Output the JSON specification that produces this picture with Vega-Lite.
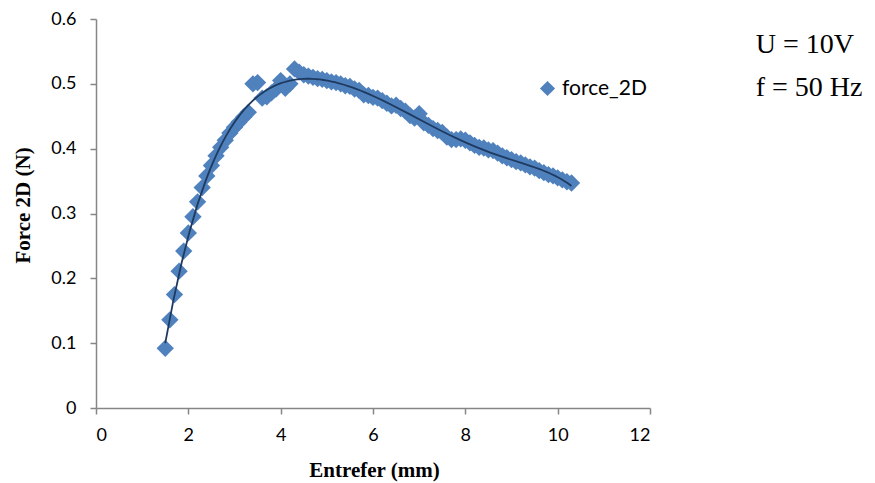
{
  "$schema": "https://vega.github.io/schema/vega-lite/v6.json",
  "autosize": "none",
  "width": 554,
  "height": 389,
  "padding": {"left": 96, "top": 19, "right": 225, "bottom": 75},
  "background": "white",
  "title": {
    "text": ["U = 10V", "f = 50 Hz"],
    "anchor": "end",
    "align": "left",
    "baseline": "top",
    "dx": 105,
    "dy": 96,
    "font": "Liberation Serif",
    "fontSize": 28,
    "fontWeight": "normal",
    "lineHeight": 43,
    "color": "black"
  },
  "data": {
    "values": [
      {"x": 1.5, "y": 0.092}, {"x": 1.6, "y": 0.136}, {"x": 1.7, "y": 0.175}, {"x": 1.8, "y": 0.211},
      {"x": 1.9, "y": 0.242}, {"x": 2.0, "y": 0.270}, {"x": 2.1, "y": 0.295}, {"x": 2.2, "y": 0.318},
      {"x": 2.3, "y": 0.340}, {"x": 2.4, "y": 0.358}, {"x": 2.5, "y": 0.374}, {"x": 2.6, "y": 0.389},
      {"x": 2.7, "y": 0.402}, {"x": 2.8, "y": 0.413}, {"x": 2.9, "y": 0.424}, {"x": 3.0, "y": 0.433},
      {"x": 3.1, "y": 0.441}, {"x": 3.2, "y": 0.449}, {"x": 3.3, "y": 0.456}, {"x": 3.4, "y": 0.500},
      {"x": 3.5, "y": 0.502}, {"x": 3.6, "y": 0.478}, {"x": 3.7, "y": 0.480}, {"x": 3.8, "y": 0.486},
      {"x": 3.9, "y": 0.492}, {"x": 4.0, "y": 0.505}, {"x": 4.1, "y": 0.493}, {"x": 4.2, "y": 0.500},
      {"x": 4.3, "y": 0.523}, {"x": 4.4, "y": 0.518}, {"x": 4.5, "y": 0.514}, {"x": 4.6, "y": 0.512},
      {"x": 4.7, "y": 0.510}, {"x": 4.8, "y": 0.508}, {"x": 4.9, "y": 0.507}, {"x": 5.0, "y": 0.505},
      {"x": 5.1, "y": 0.503}, {"x": 5.2, "y": 0.502}, {"x": 5.3, "y": 0.500}, {"x": 5.4, "y": 0.497},
      {"x": 5.5, "y": 0.496}, {"x": 5.6, "y": 0.492}, {"x": 5.7, "y": 0.490}, {"x": 5.8, "y": 0.483},
      {"x": 5.9, "y": 0.482}, {"x": 6.0, "y": 0.479}, {"x": 6.1, "y": 0.478}, {"x": 6.2, "y": 0.474},
      {"x": 6.3, "y": 0.470}, {"x": 6.4, "y": 0.466}, {"x": 6.5, "y": 0.467}, {"x": 6.6, "y": 0.462},
      {"x": 6.7, "y": 0.458}, {"x": 6.8, "y": 0.451}, {"x": 6.9, "y": 0.447}, {"x": 7.0, "y": 0.454},
      {"x": 7.1, "y": 0.440}, {"x": 7.2, "y": 0.436}, {"x": 7.3, "y": 0.431}, {"x": 7.4, "y": 0.428},
      {"x": 7.5, "y": 0.425}, {"x": 7.6, "y": 0.418}, {"x": 7.7, "y": 0.414}, {"x": 7.8, "y": 0.414},
      {"x": 7.9, "y": 0.415}, {"x": 8.0, "y": 0.413}, {"x": 8.1, "y": 0.409}, {"x": 8.2, "y": 0.405},
      {"x": 8.3, "y": 0.402}, {"x": 8.4, "y": 0.401}, {"x": 8.5, "y": 0.398}, {"x": 8.6, "y": 0.397},
      {"x": 8.7, "y": 0.393}, {"x": 8.8, "y": 0.389}, {"x": 8.9, "y": 0.386}, {"x": 9.0, "y": 0.383},
      {"x": 9.1, "y": 0.380}, {"x": 9.2, "y": 0.378}, {"x": 9.3, "y": 0.375}, {"x": 9.4, "y": 0.372},
      {"x": 9.5, "y": 0.370}, {"x": 9.6, "y": 0.366}, {"x": 9.7, "y": 0.363}, {"x": 9.8, "y": 0.360},
      {"x": 9.9, "y": 0.358}, {"x": 10.0, "y": 0.355}, {"x": 10.1, "y": 0.352}, {"x": 10.2, "y": 0.349},
      {"x": 10.3, "y": 0.347}
    ]
  },
  "layer": [
    {
      "mark": {"type": "point", "shape": "diamond", "filled": true, "size": 300, "opacity": 1},
      "encoding": {
        "x": {
          "field": "x", "type": "quantitative",
          "scale": {"domain": [0, 12], "nice": false, "zero": true},
          "axis": {"values": [0, 2, 4, 6, 8, 10, 12], "title": "Entrefer (mm)"}
        },
        "y": {
          "field": "y", "type": "quantitative",
          "scale": {"domain": [0, 0.6], "nice": false},
          "axis": {"values": [0, 0.1, 0.2, 0.3, 0.4, 0.5, 0.6], "format": ".1~f", "title": "Force 2D (N)"}
        },
        "color": {
          "datum": "force_2D",
          "type": "nominal",
          "scale": {"range": ["#4F81BD"]},
          "legend": {
            "title": null,
            "orient": "none",
            "legendX": 441,
            "legendY": 59,
            "symbolType": "diamond",
            "symbolSize": 230,
            "symbolStrokeWidth": 0,
            "labelFont": "Lato",
            "labelFontSize": 21,
            "labelColor": "black",
            "labelOffset": 4
          }
        }
      }
    },
    {
      "transform": [{"regression": "y", "on": "x", "method": "poly", "order": 6}],
      "mark": {"type": "line", "color": "#1F3A60", "strokeWidth": 1.8},
      "encoding": {
        "x": {"field": "x", "type": "quantitative"},
        "y": {"field": "y", "type": "quantitative"}
      }
    }
  ],
  "config": {
    "view": {"stroke": null},
    "axis": {
      "grid": false,
      "domainColor": "#868686",
      "tickColor": "#868686",
      "domainWidth": 1.5,
      "tickWidth": 1.5,
      "tickSize": 6,
      "labelFont": "Lato",
      "labelFontSize": 18,
      "labelColor": "black",
      "titleFont": "Liberation Serif",
      "titleFontWeight": "bold",
      "titleColor": "black"
    },
    "axisX": {"labelPadding": 12, "titleFontSize": 21, "titleX": 278, "titleY": 68, "titleBaseline": "alphabetic"},
    "axisY": {"labelPadding": 14, "titleFontSize": 21, "titleX": -73, "titleY": 186, "titleBaseline": "middle"}
  }
}
